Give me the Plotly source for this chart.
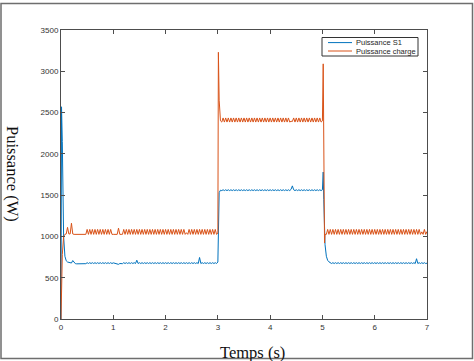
import plotly.graph_objects as go

# ---------------- data ----------------
temps_s = [
    0, 0.01, 0.025, 0.05, 0.075, 0.1, 0.125, 0.15, 0.175, 0.2, 0.225, 0.25, 0.275, 0.3, 0.325, 0.35, 0.375, 0.4, 0.425, 0.45, 0.475,
    0.5, 0.525, 0.55, 0.575, 0.6, 0.625, 0.65, 0.675, 0.7, 0.725, 0.75, 0.775, 0.8, 0.825, 0.85, 0.875, 0.9, 0.925, 0.95, 0.975,
    1.0, 1.025, 1.05, 1.075, 1.1, 1.125, 1.15, 1.175, 1.2, 1.225, 1.25, 1.275, 1.3, 1.325, 1.35, 1.375, 1.4, 1.425, 1.45, 1.475,
    1.5, 1.525, 1.55, 1.575, 1.6, 1.625, 1.65, 1.675, 1.7, 1.725, 1.75, 1.775, 1.8, 1.825, 1.85, 1.875, 1.9, 1.925, 1.95, 1.975,
    2.0, 2.025, 2.05, 2.075, 2.1, 2.125, 2.15, 2.175, 2.2, 2.225, 2.25, 2.275, 2.3, 2.325, 2.35, 2.375, 2.4, 2.425, 2.45, 2.475,
    2.5, 2.525, 2.55, 2.575, 2.6, 2.625, 2.65, 2.675, 2.7, 2.725, 2.75, 2.775, 2.8, 2.825, 2.85, 2.875, 2.9, 2.925, 2.95, 2.975,
    3.0, 3.01, 3.025, 3.05, 3.075, 3.1, 3.125, 3.15, 3.175, 3.2, 3.225, 3.25, 3.275, 3.3, 3.325, 3.35, 3.375, 3.4, 3.425, 3.45, 3.475,
    3.5, 3.525, 3.55, 3.575, 3.6, 3.625, 3.65, 3.675, 3.7, 3.725, 3.75, 3.775, 3.8, 3.825, 3.85, 3.875, 3.9, 3.925, 3.95, 3.975,
    4.0, 4.025, 4.05, 4.075, 4.1, 4.125, 4.15, 4.175, 4.2, 4.225, 4.25, 4.275, 4.3, 4.325, 4.35, 4.375, 4.4, 4.425, 4.45, 4.475,
    4.5, 4.525, 4.55, 4.575, 4.6, 4.625, 4.65, 4.675, 4.7, 4.725, 4.75, 4.775, 4.8, 4.825, 4.85, 4.875, 4.9, 4.925, 4.95, 4.975,
    5.0, 5.015, 5.025, 5.04, 5.05, 5.075, 5.1, 5.125, 5.15, 5.175, 5.2, 5.225, 5.25, 5.275, 5.3, 5.325, 5.35, 5.375, 5.4, 5.425, 5.45, 5.475,
    5.5, 5.525, 5.55, 5.575, 5.6, 5.625, 5.65, 5.675, 5.7, 5.725, 5.75, 5.775, 5.8, 5.825, 5.85, 5.875, 5.9, 5.925, 5.95, 5.975,
    6.0, 6.025, 6.05, 6.075, 6.1, 6.125, 6.15, 6.175, 6.2, 6.225, 6.25, 6.275, 6.3, 6.325, 6.35, 6.375, 6.4, 6.425, 6.45, 6.475,
    6.5, 6.525, 6.55, 6.575, 6.6, 6.625, 6.65, 6.675, 6.7, 6.725, 6.75, 6.775, 6.8, 6.825, 6.85, 6.875, 6.9, 6.925, 6.95, 6.975,
    7.0,
]

puissance_s1 = [
    0, 2570, 2150, 1000, 760, 705, 690, 685, 680, 678, 708, 685, 670, 668, 668, 667, 667, 668, 668, 668, 670,
    682, 672, 682, 672, 682, 672, 682, 672, 682, 672, 682, 672, 682, 672, 682, 672, 682, 672, 682, 672,
    680, 676, 674, 672, 662, 672, 670, 670, 682, 672, 682, 672, 682, 672, 682, 672, 682, 672, 712, 672,
    682, 672, 682, 672, 682, 672, 682, 672, 682, 672, 682, 672, 682, 672, 682, 672, 682, 672, 682, 672,
    682, 672, 682, 672, 682, 672, 682, 672, 682, 672, 682, 672, 682, 672, 682, 672, 682, 672, 682, 672,
    682, 672, 682, 672, 682, 672, 745, 672, 682, 672, 682, 672, 682, 672, 682, 672, 682, 672, 682, 672,
    690, 1200, 1530, 1560, 1555, 1565, 1555, 1565, 1555, 1565, 1555, 1565, 1555, 1565, 1555, 1565, 1555, 1565, 1555, 1565, 1555,
    1565, 1555, 1565, 1555, 1565, 1555, 1565, 1555, 1565, 1555, 1565, 1555, 1565, 1555, 1565, 1555, 1565, 1555, 1565, 1555,
    1565, 1555, 1565, 1555, 1565, 1555, 1565, 1555, 1565, 1555, 1565, 1555, 1565, 1555, 1565, 1555, 1570, 1612, 1565, 1555,
    1565, 1555, 1565, 1555, 1565, 1555, 1565, 1555, 1565, 1555, 1565, 1555, 1565, 1555, 1565, 1555, 1565, 1555, 1565, 1555,
    1565, 1780, 1450, 1050, 900, 760, 710, 692, 684, 672, 682, 672, 682, 672, 682, 672, 682, 672, 682, 672, 682, 672,
    682, 672, 682, 672, 682, 672, 682, 672, 682, 672, 682, 672, 682, 672, 682, 672, 682, 672, 682, 672,
    682, 672, 682, 672, 682, 672, 682, 672, 682, 672, 682, 672, 682, 672, 682, 672, 682, 672, 682, 672,
    682, 672, 682, 672, 682, 672, 682, 672, 682, 672, 682, 672, 730, 672, 682, 672, 682, 672, 682, 672,
    676,
]

puissance_charge = [
    0, 420, 780, 1000, 1025, 1030, 1110, 1030, 1030, 1160, 1030, 1025, 1025, 1025, 1025, 1025, 1025, 1025, 1025, 1025, 1025,
    1085, 1025, 1085, 1025, 1085, 1025, 1085, 1025, 1085, 1025, 1085, 1025, 1085, 1025, 1085, 1025, 1085, 1025, 1085, 1025,
    1025, 1025, 1025, 1025, 1100, 1025, 1025, 1025, 1085, 1025, 1085, 1025, 1085, 1025, 1085, 1025, 1085, 1025, 1085, 1025,
    1085, 1025, 1085, 1025, 1085, 1025, 1085, 1025, 1085, 1025, 1085, 1025, 1085, 1025, 1085, 1025, 1085, 1025, 1085, 1025,
    1085, 1025, 1085, 1025, 1085, 1025, 1085, 1025, 1085, 1025, 1085, 1025, 1085, 1025, 1085, 1025, 1045, 1025, 1085, 1025,
    1085, 1025, 1085, 1025, 1085, 1025, 1085, 1025, 1085, 1025, 1085, 1025, 1085, 1025, 1085, 1025, 1085, 1025, 1085, 1025,
    1040, 3230, 2650, 2400, 2385, 2435, 2385, 2435, 2385, 2435, 2385, 2435, 2385, 2435, 2385, 2435, 2385, 2435, 2385, 2435, 2385,
    2435, 2385, 2435, 2385, 2435, 2385, 2435, 2385, 2435, 2385, 2435, 2385, 2435, 2385, 2435, 2385, 2435, 2385, 2435, 2385,
    2435, 2385, 2435, 2385, 2435, 2385, 2435, 2385, 2435, 2385, 2435, 2385, 2435, 2385, 2435, 2385, 2395, 2392, 2435, 2385,
    2435, 2385, 2435, 2385, 2435, 2385, 2435, 2385, 2435, 2385, 2435, 2385, 2435, 2385, 2435, 2385, 2435, 2385, 2435, 2385,
    2400, 3090, 2000, 920, 1025, 1025, 1085, 1025, 1085, 1025, 1085, 1025, 1085, 1025, 1085, 1025, 1085, 1025, 1085, 1025, 1085, 1025,
    1085, 1025, 1085, 1025, 1085, 1025, 1085, 1025, 1085, 1025, 1085, 1025, 1085, 1025, 1085, 1025, 1085, 1025, 1085, 1025,
    1085, 1025, 1085, 1025, 1085, 1025, 1085, 1025, 1085, 1025, 1085, 1025, 1085, 1025, 1085, 1025, 1085, 1025, 1085, 1025,
    1085, 1025, 1085, 1025, 1085, 1025, 1085, 1025, 1085, 1025, 1085, 1025, 1085, 1025, 1085, 1025, 1055, 1025, 1085, 1025,
    1060,
]

serie_noms = ["Puissance S1", "Puissance charge"]
serie_couleurs = ["#0072BD", "#D95319"]
x_ticks = [0, 1, 2, 3, 4, 5, 6, 7]
y_ticks = [0, 500, 1000, 1500, 2000, 2500, 3000, 3500]
x_titre = "Temps (s)"
y_titre = "Puissance (W)"

# ---------------- layout geometry ----------------
W, H = 474, 361
ML, MR, MT, MB = 61, 47, 30, 42
PW, PH = W - ML - MR, H - MT - MB


def px(xp):
    return (xp - ML) / PW


def py(yp):
    return (H - MB - yp) / PH


fig = go.Figure()
for vals, nom, col in zip([puissance_s1, puissance_charge], serie_noms, serie_couleurs):
    fig.add_trace(go.Scatter(x=temps_s, y=vals, mode="lines", name=nom,
                             line=dict(color=col, width=1), showlegend=False))

axis_common = dict(
    showgrid=False, zeroline=False, showline=True, linecolor="#4d4d4d", linewidth=1,
    mirror="ticks", ticks="inside", ticklen=4, tickcolor="#4d4d4d", tickwidth=1,
    tickfont=dict(family="Liberation Sans, Arial", size=8, color="#333333"),
)
fig.update_xaxes(range=[0, 7], tickvals=x_ticks, ticktext=[str(v) for v in x_ticks], **axis_common)
fig.update_yaxes(range=[0, 3500], tickvals=y_ticks, ticktext=[str(v) for v in y_ticks], **axis_common)

shapes = []
annotations = []
# outer frame
shapes.append(dict(type="rect", xref="paper", yref="paper", x0=px(1), x1=px(472.5), y0=py(358.5), y1=py(3.5),
                   line=dict(color="#6e6e6e", width=1.5), layer="below"))
# legend box
shapes.append(dict(type="rect", xref="paper", yref="paper", x0=px(322), x1=px(418), y0=py(56), y1=py(37.5),
                   line=dict(color="#333333", width=1), fillcolor="white", layer="above"))
leg_y = [42.6, 51.0]
for yy, nom, col in zip(leg_y, serie_noms, serie_couleurs):
    shapes.append(dict(type="line", xref="paper", yref="paper", x0=px(328), x1=px(352), y0=py(yy), y1=py(yy),
                       line=dict(color=col, width=1), layer="above"))
    annotations.append(dict(xref="paper", yref="paper", x=px(355), y=py(yy), xanchor="left", yanchor="middle",
                            text=nom, showarrow=False, borderpad=0,
                            font=dict(family="Liberation Sans, Arial", size=7.5, color="#262626")))
# axis titles
annotations.append(dict(xref="paper", yref="paper", x=px(252), y=py(352), xanchor="center", yanchor="middle",
                        text=x_titre, showarrow=False,
                        font=dict(family="Liberation Serif, Times New Roman", size=16.5, color="#111111")))
annotations.append(dict(xref="paper", yref="paper", x=px(13), y=py(174), xanchor="center", yanchor="middle",
                        text=y_titre, showarrow=False, textangle=90,
                        font=dict(family="Liberation Serif, Times New Roman", size=16.5, color="#111111")))

fig.update_layout(
    width=W, height=H, margin=dict(l=ML, r=MR, t=MT, b=MB),
    paper_bgcolor="white", plot_bgcolor="white",
    shapes=shapes, annotations=annotations, showlegend=False,
)

fig.write_html("out.html")
